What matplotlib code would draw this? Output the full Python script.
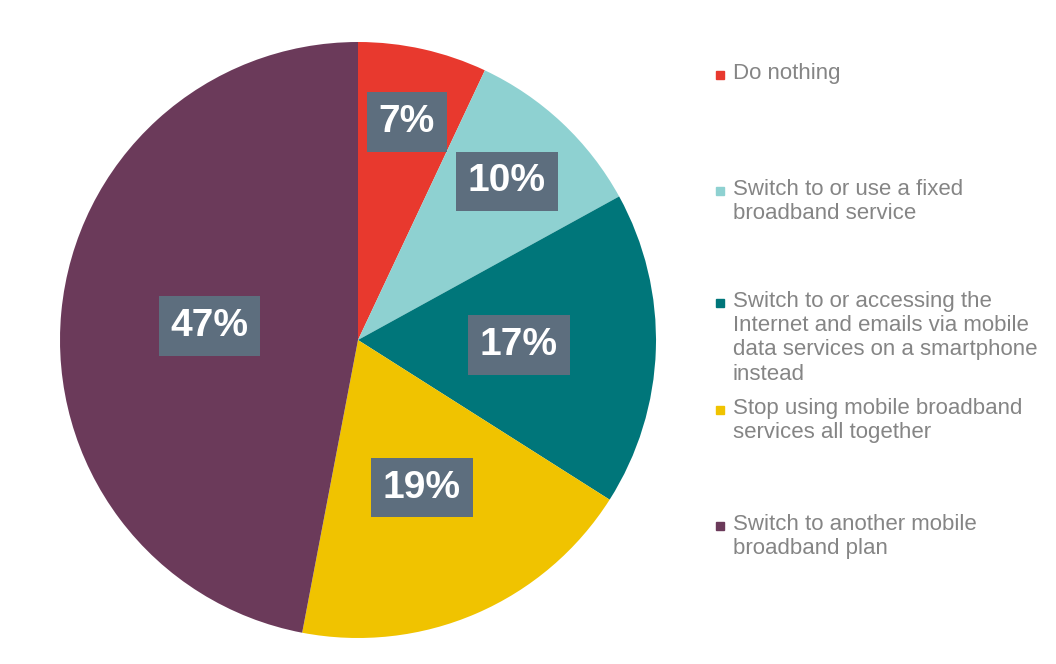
import numpy as np
import matplotlib.pyplot as plt

labels = [
    "Do nothing",
    "Switch to or use a fixed\nbroadband service",
    "Switch to or accessing the\nInternet and emails via mobile\ndata services on a smartphone\ninstead",
    "Stop using mobile broadband\nservices all together",
    "Switch to another mobile\nbroadband plan",
]
values = [7, 10, 17, 19, 47]
colors = ["#e8392e", "#8ed1d1", "#00767a", "#f0c300", "#6b3a5a"]

# where each percentage box sits (fraction of radius) and legend rows (fig y, pixels from top)
label_r = [0.75, 0.73, 0.54, 0.54, 0.50]
legend_y = [75, 191, 303, 410, 526]

W, H = 1056, 664
fig = plt.figure(figsize=(W / 100, H / 100), dpi=100)
cx, cy, R = 358, 340, 298
ax = fig.add_axes([(cx - R) / W, 1 - (cy + R) / H, 2 * R / W, 2 * R / H])

wedges, _ = ax.pie(values, colors=colors, startangle=90, counterclock=False,
                   radius=1, wedgeprops=dict(linewidth=0))
ax.set_xlim(-1, 1)
ax.set_ylim(-1, 1)
ax.set_aspect("equal")
ax.axis("off")

start = 90
for v, r in zip(values, label_r):
    mid = np.deg2rad(start - v * 3.6 / 2)
    start -= v * 3.6
    ax.text(r * np.cos(mid), r * np.sin(mid), f"{v}%", ha="center", va="center",
            color="white", fontsize=28, fontweight="bold", family="Liberation Sans",
            bbox=dict(boxstyle="square,pad=0.3", fc="#5d6e7e", ec="none"))

for lab, c, y in zip(labels, colors, legend_y):
    fig.patches.append(plt.Rectangle((716 / W, 1 - (y + 4) / H), 8 / W, 8 / H,
                                     transform=fig.transFigure, color=c))
    fig.text(733 / W, 1 - (y - 12) / H, lab, ha="left", va="top", color="#858585",
             fontsize=16, family="Liberation Sans", linespacing=1.2)

fig.savefig("out.png", dpi=100, facecolor="white")
